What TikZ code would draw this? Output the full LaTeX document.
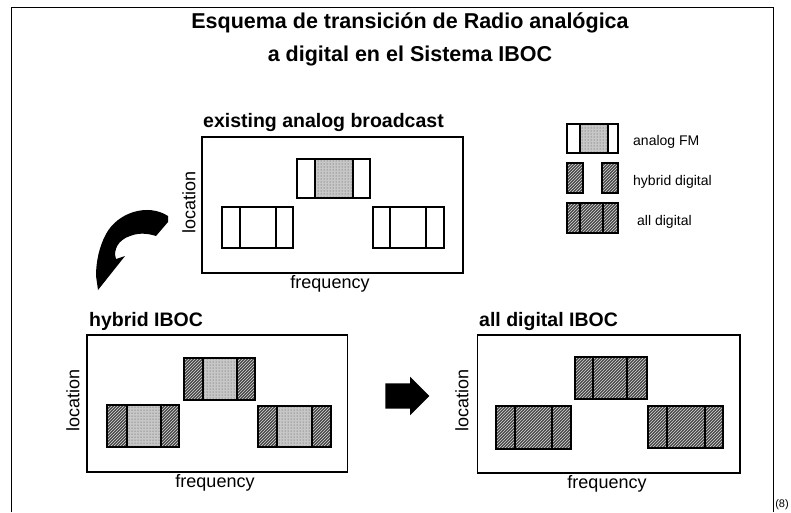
\documentclass[tikz,border=0pt]{standalone}
\usepackage{fontspec}
\setmainfont{Liberation Sans}
\usetikzlibrary{shapes.arrows, patterns, positioning}

\begin{document}
\begin{tikzpicture}[x=1pt, y=-1pt,
    panel/.style={draw, line width=1.6pt, inner sep=0pt},
    chan/.style={draw, line width=2pt},
    ana/.style={fill=black!22, postaction={pattern=dots, pattern color=black!70}},
    dig/.style={fill=black!72, postaction={pattern=north east lines, pattern color=white!85!black}},
    ttl/.style={font=\fontsize{21.5}{24}\selectfont\bfseries, inner sep=0pt},
    ptitle/.style={font=\fontsize{19.5}{22}\selectfont\bfseries, anchor=west, inner sep=0pt},
    axl/.style={font=\fontsize{18}{20}\selectfont, inner sep=0pt},
    leg/.style={font=\fontsize{14}{16}\selectfont, anchor=west, inner sep=0pt}]
    \useasboundingbox (0,0) rectangle (791,512);
    % frame
    \draw[line width=1pt] (11,512) -- (11,7) -- (773,7) -- (773,512);
    \node[font=\fontsize{11}{12}\selectfont, inner sep=0pt] (src) at (782,505) {(8)};
    % title
    \node[ttl] (title1) at (410,23) {Esquema de transición de Radio analógica};
    \node[ttl] (title2) at (410,56) {a digital en el Sistema IBOC};
    % panels
    \node[panel, minimum width=261.3pt, minimum height=136.3pt] (exist) at (332.35,204.85) {};
    \node[panel, minimum width=260.6pt, minimum height=136.7pt] (hyb) at (217,403.35) {};
    \node[panel, minimum width=262.7pt, minimum height=137.7pt] (alld) at (608.65,403.85) {};
    \node[ptitle] (existT) at (203,122) {existing analog broadcast};
    \node[ptitle] (hybT) at (89,321) {hybrid IBOC};
    \node[ptitle] (alldT) at (479,321) {all digital IBOC};
    \node[axl] (existX) at (330,284) {frequency};
    \node[axl] (hybX) at (215,483) {frequency};
    \node[axl] (alldX) at (607,484) {frequency};
    \node[axl, rotate=90] (existY) at (189,202) {location};
    \node[axl, rotate=90] (hybY) at (73,400) {location};
    \node[axl, rotate=90] (alldY) at (462,400) {location};
    % existing analog channels
    \fill[ana] (315,159) rectangle (353,198);
    \foreach \xa/\xb/\xc/\xd/\ya/\yb in {296.7/315/353/370/159/198, 221.7/240/276/293.3/206.7/248, 372.7/390/426/444/206.7/248}
        \draw[chan] (\xa,\ya) rectangle (\xd,\yb) (\xb,\ya) -- (\xb,\yb) (\xc,\ya) -- (\xc,\yb);
    % hybrid channels
    \foreach \xa/\xb/\xc/\xd/\ya/\yb in {184/203.3/236.7/255/358.3/400, 107.3/126.7/161/179.3/405/446.7, 258.3/276.7/311.7/330.7/405.7/446.7} {
        \path[dig] (\xa,\ya) rectangle (\xb,\yb) (\xc,\ya) rectangle (\xd,\yb);
        \path[ana] (\xb,\ya) rectangle (\xc,\yb);
        \draw[chan] (\xa,\ya) rectangle (\xd,\yb) (\xb,\ya) -- (\xb,\yb) (\xc,\ya) -- (\xc,\yb);
    }
    % all digital channels
    \foreach \xa/\xb/\xc/\xd/\ya/\yb in {575/592.7/627.3/647.3/356.7/399.3, 496/515/551.7/570.7/406/449.3, 648.3/667.3/705/723.3/406/448.3} {
        \path[dig] (\xa,\ya) rectangle (\xd,\yb);
        \draw[chan] (\xa,\ya) rectangle (\xd,\yb) (\xb,\ya) -- (\xb,\yb) (\xc,\ya) -- (\xc,\yb);
    }
    % legend
    \fill[ana] (580,124.3) rectangle (608,153.3);
    \draw[chan] (566.7,124.3) rectangle (618.3,153.3) (580,124.3) -- (580,153.3) (608,124.3) -- (608,153.3);
    \path[dig] (566.7,163.3) rectangle (582.7,192.7) (601.7,163.3) rectangle (618,192.7);
    \draw[chan] (566.7,163.3) rectangle (582.7,192.7) (601.7,163.3) rectangle (618,192.7);
    \path[dig] (566.7,202.7) rectangle (618.3,232.7);
    \draw[chan] (566.7,202.7) rectangle (618.3,232.7) (580,202.7) -- (580,232.7) (603,202.7) -- (603,232.7);
    \node[leg] (legA) at (633,142) {analog FM};
    \node[leg] (legH) at (633,182) {hybrid digital};
    \node[leg] (legD) at (637,222) {all digital};
    % arrows
    \fill (168,216) .. controls (148,203) and (118,212) .. (106,234)
        .. controls (99,247) and (96,262) .. (96,276) -- (98,290) -- (125,256) -- (116,259)
        .. controls (113,250) and (118,240) .. (130,236)
        .. controls (140,232) and (150,234) .. (156,236) -- (168,222) -- cycle;
    \node[single arrow, fill=black, inner xsep=0pt, inner ysep=12.5pt, minimum height=44pt,
        minimum width=38pt, single arrow head extend=6.5pt] (toall) at (401,396) {};
\end{tikzpicture}
\end{document}
